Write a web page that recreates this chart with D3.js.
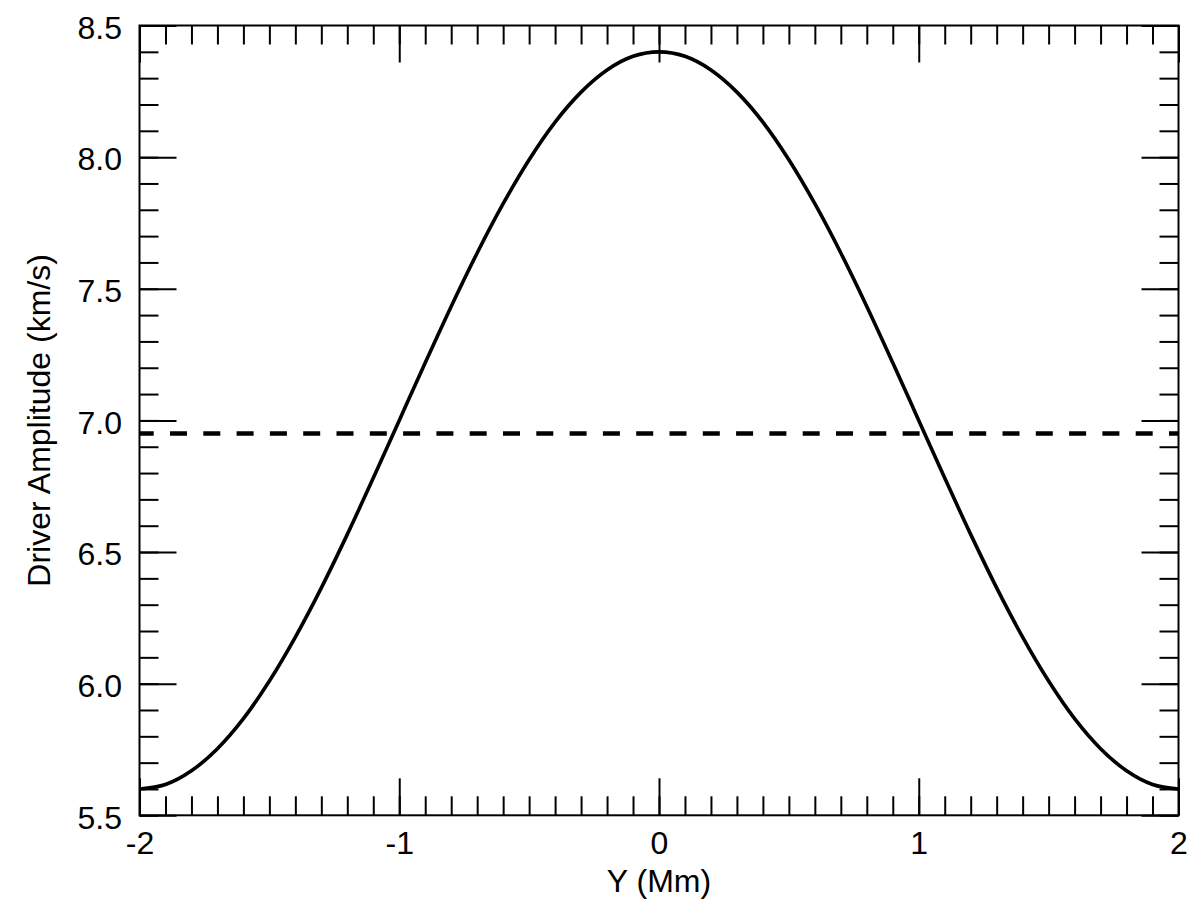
<!DOCTYPE html>
<html>
<head>
<meta charset="utf-8">
<script src="https://cdn.jsdelivr.net/npm/d3@7"></script>
<style>
  html, body { margin: 0; padding: 0; background: #fff; }
  svg text { font-family: "Liberation Sans", Arial, Helvetica, sans-serif; fill: #000; }
</style>
</head>
<body>
<svg id="chart" width="1200" height="908"></svg>
<script>
// ---- data ----
const yPositions = [-2.0, -1.9, -1.8, -1.7, -1.6, -1.5, -1.4, -1.3, -1.2, -1.1, -1.0,
                    -0.9, -0.8, -0.7, -0.6, -0.5, -0.4, -0.3, -0.2, -0.1, 0.0,
                    0.1, 0.2, 0.3, 0.4, 0.5, 0.6, 0.7, 0.8, 0.9, 1.0,
                    1.1, 1.2, 1.3, 1.4, 1.5, 1.6, 1.7, 1.8, 1.9, 2.0];
const driverAmplitude = [5.600, 5.617, 5.669, 5.753, 5.867, 6.010, 6.177, 6.364, 6.567, 6.781, 7.000,
                         7.219, 7.433, 7.636, 7.823, 7.990, 8.133, 8.247, 8.331, 8.383, 8.400,
                         8.383, 8.331, 8.247, 8.133, 7.990, 7.823, 7.636, 7.433, 7.219, 7.000,
                         6.781, 6.567, 6.364, 6.177, 6.010, 5.867, 5.753, 5.669, 5.617, 5.600];
const thresholdLevel = 6.95;
const xTickValues = [-2, -1, 0, 1, 2];
const xTickLabels = ["-2", "-1", "0", "1", "2"];
const yTickValues = [5.5, 6.0, 6.5, 7.0, 7.5, 8.0, 8.5];
const yTickLabels = ["5.5", "6.0", "6.5", "7.0", "7.5", "8.0", "8.5"];
const xMinorTicks = d3.range(-20, 21).map(d => d / 10);
const yMinorTicks = d3.range(55, 86).map(d => d / 10);
const xTitle = "Y (Mm)";
const yTitle = "Driver Amplitude (km/s)";

// ---- layout ----
const svg = d3.select("#chart");
const L = 139.5, R = 1178.5, T = 25.5, B = 815.3;
const x = d3.scaleLinear().domain([-2, 2]).range([L, R]);
const y = d3.scaleLinear().domain([5.5, 8.5]).range([B, T]);
const MAJ = 37, MIN = 19;

function styleAxis(g) {
  g.select(".domain").remove();
  g.selectAll(".tick line").attr("stroke", "#000").attr("stroke-width", 2);
  g.selectAll(".tick text").attr("font-size", 32).attr("fill", "#000");
}

// minor ticks
svg.append("g").attr("transform", `translate(0,${B})`)
  .call(d3.axisBottom(x).tickValues(xMinorTicks).tickSize(-MIN).tickFormat(""))
  .call(styleAxis);
svg.append("g").attr("transform", `translate(0,${T})`)
  .call(d3.axisTop(x).tickValues(xMinorTicks).tickSize(-MIN).tickFormat(""))
  .call(styleAxis);
svg.append("g").attr("transform", `translate(${L},0)`)
  .call(d3.axisLeft(y).tickValues(yMinorTicks).tickSize(-MIN).tickFormat(""))
  .call(styleAxis);
svg.append("g").attr("transform", `translate(${R},0)`)
  .call(d3.axisRight(y).tickValues(yMinorTicks).tickSize(-MIN).tickFormat(""))
  .call(styleAxis);

// major ticks with labels
const gxb = svg.append("g").attr("transform", `translate(0,${B})`)
  .call(d3.axisBottom(x).tickValues(xTickValues).tickSize(-MAJ).tickPadding(16)
    .tickFormat((d, i) => xTickLabels[i]))
  .call(styleAxis);
svg.append("g").attr("transform", `translate(0,${T})`)
  .call(d3.axisTop(x).tickValues(xTickValues).tickSize(-MAJ).tickFormat(""))
  .call(styleAxis);
const gyl = svg.append("g").attr("transform", `translate(${L},0)`)
  .call(d3.axisLeft(y).tickValues(yTickValues).tickSize(-MAJ).tickPadding(17.5)
    .tickFormat((d, i) => yTickLabels[i]))
  .call(styleAxis);
gyl.selectAll(".tick text").attr("dy", "0.4em");
svg.append("g").attr("transform", `translate(${R},0)`)
  .call(d3.axisRight(y).tickValues(yTickValues).tickSize(-MAJ).tickFormat(""))
  .call(styleAxis);

// frame
svg.append("rect").attr("x", L).attr("y", T).attr("width", R - L).attr("height", B - T)
  .attr("fill", "none").attr("stroke", "#000").attr("stroke-width", 2);

// clip
svg.append("clipPath").attr("id", "plotclip").append("rect")
  .attr("x", L).attr("y", T).attr("width", R - L).attr("height", B - T);

// dashed threshold line
svg.append("line")
  .attr("clip-path", "url(#plotclip)")
  .attr("x1", x(-2)).attr("x2", x(2))
  .attr("y1", y(thresholdLevel)).attr("y2", y(thresholdLevel))
  .attr("stroke", "#000").attr("stroke-width", 4.5)
  .attr("stroke-dasharray", "17,16.3").attr("stroke-dashoffset", 2.8);

// curve
const line = d3.line()
  .x((d, i) => x(yPositions[i]))
  .y(d => y(d))
  .curve(d3.curveMonotoneX);
svg.append("path")
  .attr("clip-path", "url(#plotclip)")
  .attr("d", line(driverAmplitude))
  .attr("fill", "none").attr("stroke", "#000").attr("stroke-width", 3.6)
  .attr("stroke-linejoin", "round");

// titles
svg.append("text").attr("x", (L + R) / 2).attr("y", 892)
  .attr("text-anchor", "middle").attr("font-size", 32).text(xTitle);
svg.append("text")
  .attr("transform", `translate(50,${(T + B) / 2}) rotate(-90)`)
  .attr("text-anchor", "middle").attr("font-size", 32).text(yTitle);
</script>
</body>
</html>
